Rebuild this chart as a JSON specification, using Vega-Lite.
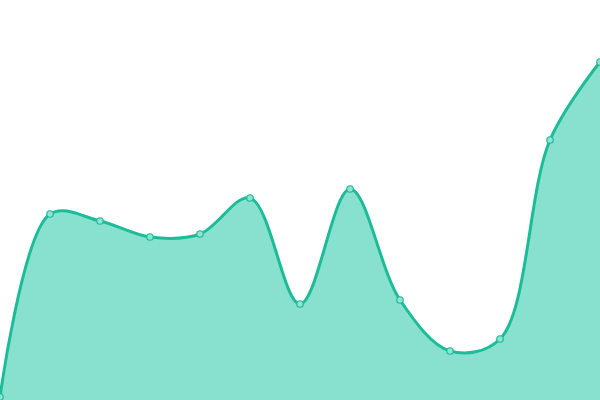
{
  "$schema": "https://vega.github.io/schema/vega-lite/v6.json",
  "width": 600,
  "height": 400,
  "padding": 0,
  "autosize": {"type": "none"},
  "background": "#ffffff",
  "data": {
    "values": [
      {"i": 0, "v": 3},
      {"i": 1, "v": 186},
      {"i": 2, "v": 179},
      {"i": 3, "v": 163},
      {"i": 4, "v": 166},
      {"i": 5, "v": 202},
      {"i": 6, "v": 96},
      {"i": 7, "v": 211},
      {"i": 8, "v": 100},
      {"i": 9, "v": 49},
      {"i": 10, "v": 61},
      {"i": 11, "v": 260},
      {"i": 12, "v": 338}
    ]
  },
  "encoding": {
    "x": {"field": "i", "type": "quantitative", "scale": {"domain": [0, 12], "nice": false, "zero": false}, "axis": null},
    "y": {"field": "v", "type": "quantitative", "scale": {"domain": [0, 400], "nice": false}, "axis": null}
  },
  "layer": [
    {"mark": {"type": "area", "interpolate": "catmull-rom", "color": "#88e0cf", "opacity": 1}},
    {"mark": {"type": "line", "interpolate": "catmull-rom", "color": "#1dbc98", "strokeWidth": 3}},
    {"mark": {"type": "point", "filled": true, "size": 42, "fill": "#8fe3d2", "stroke": "#1dbc98", "strokeWidth": 1.2, "opacity": 1}}
  ],
  "config": {"view": {"stroke": null}}
}
